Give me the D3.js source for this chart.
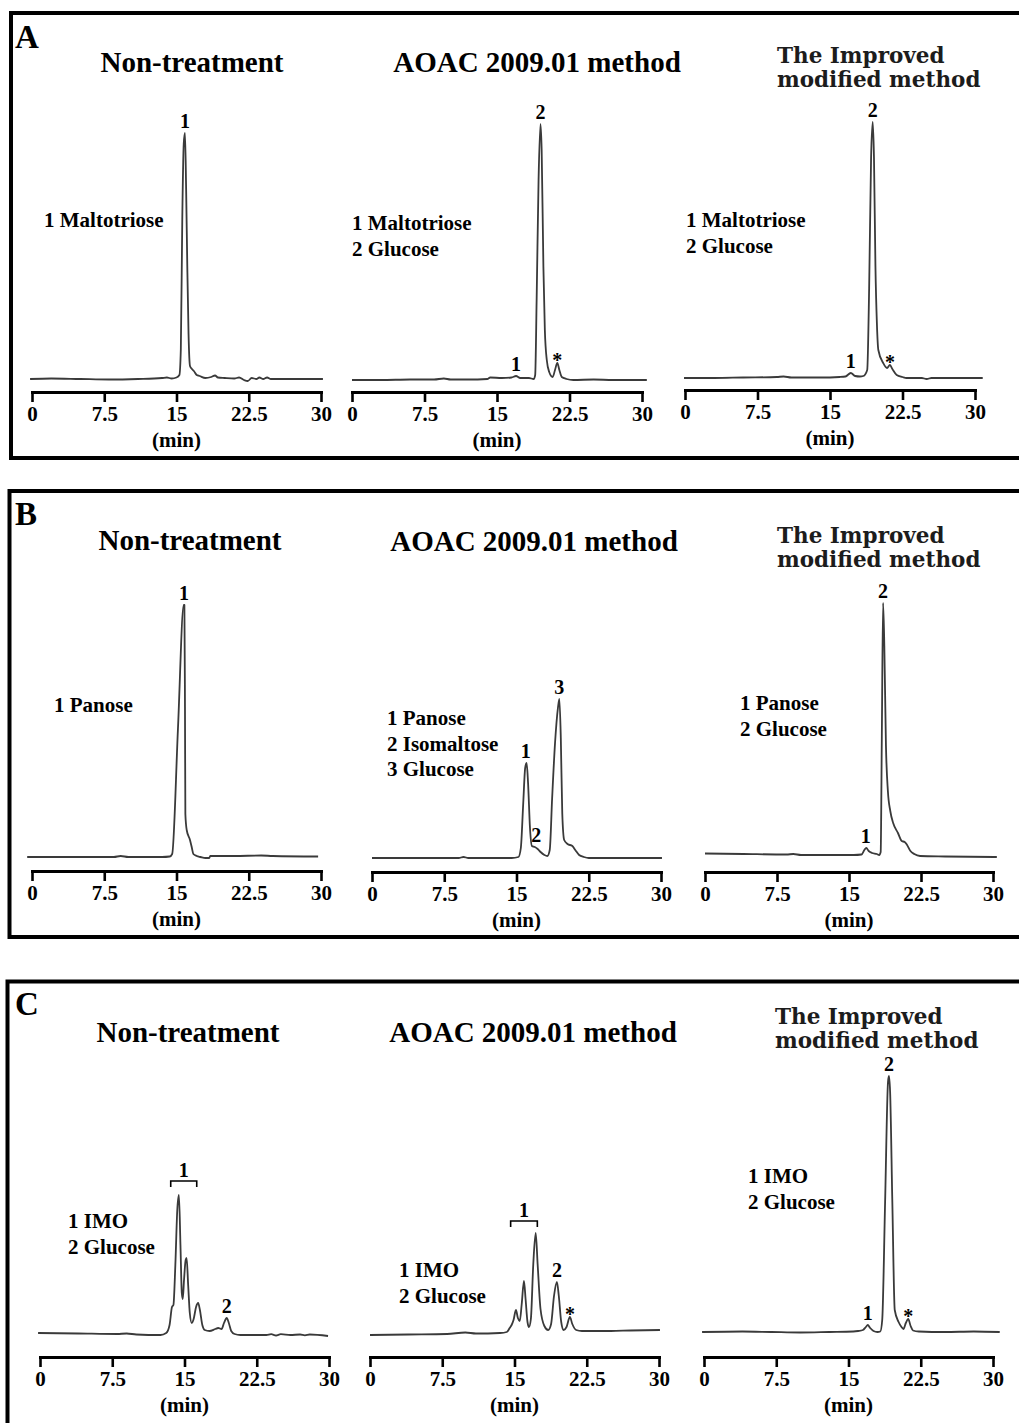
<!DOCTYPE html>
<html>
<head>
<meta charset="utf-8">
<script src="https://cdn.jsdelivr.net/npm/d3@7"></script>
<style>
  body { margin: 0; background: #fff; }
  svg { display: block; }
  .serif { font-family: "Liberation Serif", "Times New Roman", serif; font-weight: bold; }
</style>
</head>
<body>
<div id="chart"></div>
<script>
// page size
const width = 1019;
const height = 1423;

// x axis ticks (min)
const tickValues = [0, 7.5, 15, 22.5, 30];
const tickLabels = ["0", "7.5", "15", "22.5", "30"];
const panelLetters = ["A", "B", "C"];
const columnTitles = ["Non-treatment", "AOAC 2009.01 method", "The Improved\nmodified method"];

// chromatogram traces: [retention time (min), detector signal]
const a1Trace = [[-0.2,0],[2,0.5],[5,0],[8,-0.5],[11,0],[13.5,1],[14,1.5],[14.5,0.5],[15,1.5],[15.3,4],[15.45,30],
  [15.6,160],[15.75,235],[15.88,246],[16,190],[16.12,113],[16.25,45],[16.4,13],[16.6,10],[16.8,8],[17.1,4],[17.4,3],
  [18,1],[18.6,2],[19,3.5],[19.3,1.5],[20,1],[21,0.5],[21.5,1.5],[22,-1],[22.4,-2],[22.8,1],[23.3,0],[23.6,1.5],
  [24,0],[24.4,1.5],[24.8,0],[27,0],[30.2,0]];
const a2Trace = [[0,0],[3,0],[6,0.5],[8.5,0.5],[9.5,1.5],[10.2,0.5],[12,0.5],[14,1],[14.3,2.5],[15.5,2],[16.5,2.5],
  [16.97,4],[17.4,2],[18.3,2],[18.8,1],[18.95,5],[19.1,80],[19.3,200],[19.5,256],[19.62,230],[19.8,113],[19.95,50],
  [20.15,20],[20.4,8],[20.76,3],[21,10],[21.24,17],[21.45,10],[21.7,3],[22.2,1],[22.9,0],[25,0.5],[27,0],[30.5,0]];
const a3Trace = [[-0.1,0],[3,0],[6,0.5],[9.5,1],[10.2,1.5],[11,0.5],[14,0.5],[16,1],[16.6,1.5],[17.15,5],[17.6,2],
  [18.1,1.5],[18.45,2],[18.85,8],[19.05,90],[19.25,220],[19.42,256],[19.55,220],[19.7,112],[19.85,55],[20,28],
  [20.5,15],[20.9,10],[21.2,13],[21.45,9],[21.9,3],[22.5,1],[22.9,0],[24.5,0],[25,-1],[25.5,0],[30.8,0]];
const b1Trace = [[-0.5,0],[4,0],[8.5,0],[9.2,1],[10,0],[13.5,0],[14.3,0.5],[14.55,3],[15.15,128],[15.75,252],
  [15.82,252],[15.88,150],[15.92,43],[16.06,27],[16.4,17],[16.6,9],[16.75,3],[17.1,1],[17.5,0],[18,-1],[18.4,-1],
  [18.5,1],[21,1],[23.8,1.5],[25,1],[29.7,0.5]];
const b2Trace = [[0,0],[5,0],[9,0],[9.5,1],[10,0],[14.5,0],[15.2,1],[15.45,10],[15.7,55],[15.9,90],[16.05,95],
  [16.2,75],[16.4,30],[16.6,12],[16.9,11],[17.2,9],[17.5,6],[17.9,3],[18.2,2],[18.45,8],[18.7,60],[19,115],
  [19.3,150],[19.45,159],[19.6,120],[19.75,45],[19.95,18],[20.3,14],[20.8,12],[21.1,8],[21.5,3],[22,1],[22.5,0],[30.1,0]];
const b3Trace = [[0,2.5],[4,2],[8.5,1.5],[9.2,2],[10,1],[14,1],[15.5,1],[16.3,1.5],[16.6,6],[16.8,8],[17.05,5],
  [17.4,3],[17.9,2],[18.15,1],[18.3,4],[18.42,120],[18.55,253],[18.68,210],[18.85,110],[19.05,65],[19.3,45],
  [19.6,33],[20.1,23],[20.5,15],[20.8,14],[21.05,11],[21.4,5],[21.8,2],[22.4,0],[25,-0.5],[30.4,-1]];
const c1Trace = [[-0.2,2],[4,1.5],[8,1],[9,1.5],[10,0.5],[12.5,0],[13.1,2],[13.45,10],[13.7,28],[13.85,30],
  [14.05,70],[14.25,125],[14.42,140],[14.58,90],[14.72,42],[14.82,36],[14.95,55],[15.12,75],[15.22,77],[15.38,50],
  [15.55,22],[15.75,12],[15.95,16],[16.2,28],[16.42,32],[16.6,25],[16.85,10],[17.1,5],[17.6,4],[18.2,6],[18.5,7],
  [18.85,6],[19.1,12],[19.38,17],[19.6,12],[19.85,4],[20.2,1],[20.8,0],[23.5,0],[24,0.8],[24.5,-0.5],[25,0.8],
  [26,0],[27,0.5],[27.5,-0.3],[28,0.5],[29.9,-1]];
const c2Trace = [[0,-1],[4,-0.5],[8,0],[9.9,1.5],[11,0.5],[13.5,1],[14.2,2],[14.5,6],[14.7,9],[14.9,14],[15.15,24],
  [15.35,16],[15.55,13],[15.75,30],[15.98,53],[16.15,35],[16.35,12],[16.5,7],[16.7,15],[16.95,70],[17.2,101],
  [17.4,70],[17.7,25],[18.1,8],[18.5,4],[18.8,10],[19.1,38],[19.4,52],[19.6,38],[19.85,12],[20.1,4],[20.4,7],
  [20.75,17],[21,10],[21.4,4],[22,3],[25,3],[27,3.5],[30.1,4]];
const c3Trace = [[-0.2,0],[4,0.5],[7,0],[10,-0.5],[13,0],[15.5,0.5],[16,1],[16.5,2],[16.8,5],[17,7],[17.25,4],
  [17.6,1],[18,0],[18.3,0.5],[18.5,12],[18.8,130],[19.1,250],[19.2,256],[19.32,240],[19.55,130],[19.8,22],[20.2,10],
  [20.5,5],[20.7,3],[20.95,9],[21.2,13],[21.45,6],[21.7,1.5],[22.3,0.5],[25,0],[28,0.5],[30.7,0]];

// peak labels: text, retention time, peak height
const a1Peaks = [{text:"1", t:15.88, h:246}];
const a2Peaks = [{text:"2", t:19.5, h:256}, {text:"1", t:16.97, h:4}, {text:"*", t:21.24, h:17}];
const a3Peaks = [{text:"2", t:19.42, h:256}, {text:"1", t:17.15, h:5}, {text:"*", t:21.2, h:13}];
const b1Peaks = [{text:"1", t:15.78, h:252}];
const b2Peaks = [{text:"3", t:19.45, h:159}, {text:"1", t:15.95, h:95}, {text:"2", t:17.05, h:11}];
const b3Peaks = [{text:"2", t:18.55, h:253}, {text:"1", t:16.75, h:8}];
const c1Peaks = [{text:"2", t:19.38, h:17}];
const c2Peaks = [{text:"2", t:19.4, h:52}, {text:"*", t:20.75, h:17}];
const c3Peaks = [{text:"2", t:19.2, h:256}, {text:"1", t:17.0, h:7}, {text:"*", t:21.2, h:13}];

// grouped peaks (bracket): label, start, end, height
const c1Bracket = [{text:"1", from:13.57, to:16.27, h:154}];
const c2Bracket = [{text:"1", from:14.6, to:17.37, h:113}];

// peak identification legends
const a1Legend = ["1 Maltotriose"];
const a2Legend = ["1 Maltotriose", "2 Glucose"];
const a3Legend = ["1 Maltotriose", "2 Glucose"];
const b1Legend = ["1 Panose"];
const b2Legend = ["1 Panose", "2 Isomaltose", "3 Glucose"];
const b3Legend = ["1 Panose", "2 Glucose"];
const c1Legend = ["1 IMO", "2 Glucose"];
const c2Legend = ["1 IMO", "2 Glucose"];
const c3Legend = ["1 IMO", "2 Glucose"];

// layout of the nine chromatograms
const subplots = [
  {col:0, x0:32,  x1:321, axisY:392,  baseY:379,  trace:a1Trace, peaks:a1Peaks, legend:a1Legend, lx:44,  ly:227,  tx:192, ty:72},
  {col:1, x0:352, x1:642, axisY:392,  baseY:380,  trace:a2Trace, peaks:a2Peaks, legend:a2Legend, lx:352, ly:230,  tx:537, ty:72},
  {col:2, x0:685, x1:975, axisY:390,  baseY:378,  trace:a3Trace, peaks:a3Peaks, legend:a3Legend, lx:686, ly:227,  tx:777, ty:63},
  {col:0, x0:32,  x1:321, axisY:871,  baseY:857,  trace:b1Trace, peaks:b1Peaks, legend:b1Legend, lx:54,  ly:712,  tx:190, ty:550},
  {col:1, x0:372, x1:661, axisY:872,  baseY:858,  trace:b2Trace, peaks:b2Peaks, legend:b2Legend, lx:387, ly:725,  tx:534, ty:551},
  {col:2, x0:705, x1:993, axisY:872,  baseY:856,  trace:b3Trace, peaks:b3Peaks, legend:b3Legend, lx:740, ly:710,  tx:777, ty:543},
  {col:0, x0:40,  x1:329, axisY:1357, baseY:1335, trace:c1Trace, peaks:c1Peaks, legend:c1Legend, lx:68,  ly:1228, tx:188, ty:1042, bracket:c1Bracket},
  {col:1, x0:370, x1:659, axisY:1357, baseY:1334, trace:c2Trace, peaks:c2Peaks, legend:c2Legend, lx:399, ly:1277, tx:533, ty:1042, bracket:c2Bracket},
  {col:2, x0:704, x1:993, axisY:1357, baseY:1332, trace:c3Trace, peaks:c3Peaks, legend:c3Legend, lx:748, ly:1183, tx:775, ty:1024}
];

// panel frames (extend past the right edge like the original)
const frames = [
  {x:11,  y:13,    h:445, lx:15, ly:48},
  {x:9.5, y:491,   h:446, lx:15, ly:525},
  {x:7.5, y:981.5, h:500, lx:15, ly:1015}
];

const svg = d3.select("#chart")
  .append("svg")
  .attr("width", width)
  .attr("height", height)
  .attr("viewBox", [0, 0, width, height]);

svg.append("rect").attr("width", width).attr("height", height).attr("fill", "#fff");

frames.forEach((f, i) => {
  svg.append("rect")
    .attr("x", f.x).attr("y", f.y)
    .attr("width", width + 20).attr("height", f.h)
    .attr("fill", "none").attr("stroke", "#000").attr("stroke-width", 4);
  svg.append("text")
    .attr("class", "serif")
    .attr("x", f.lx).attr("y", f.ly)
    .attr("font-size", 33)
    .text(panelLetters[i]);
});

subplots.forEach(p => {
  const g = svg.append("g");

  const x = d3.scaleLinear().domain([0, 30]).range([p.x0, p.x1]);
  const y = d3.scaleLinear().domain([0, 260]).range([p.baseY, p.baseY - 260]);

  // title
  if (p.col < 2) {
    g.append("text")
      .attr("class", "serif")
      .attr("x", p.tx).attr("y", p.ty)
      .attr("text-anchor", "middle")
      .attr("font-size", 29)
      .text(columnTitles[p.col]);
  } else {
    const t = g.append("text")
      .attr("x", p.tx).attr("y", p.ty)
      .attr("font-family", "'DejaVu Serif', serif")
      .attr("font-weight", "bold")
      .attr("font-size", 21.5)
      .attr("fill", "#1c1c1c");
    columnTitles[2].split("\n").forEach((line, i) => {
      t.append("tspan").attr("x", p.tx).attr("dy", i === 0 ? 0 : 24).text(line);
    });
  }

  // x axis
  const axis = g.append("g")
    .attr("transform", `translate(0,${p.axisY})`)
    .call(d3.axisBottom(x)
      .tickValues(tickValues)
      .tickFormat((d, i) => tickLabels[i])
      .tickSize(10)
      .tickSizeOuter(0)
      .tickPadding(4));
  axis.select(".domain").attr("stroke", "#000").attr("stroke-width", 3).attr("stroke-linecap", "square");
  axis.selectAll(".tick line").attr("stroke", "#000").attr("stroke-width", 2.6);
  axis.selectAll(".tick text")
    .attr("class", "serif")
    .attr("font-size", 21)
    .attr("fill", "#000");

  g.append("text")
    .attr("class", "serif")
    .attr("x", (p.x0 + p.x1) / 2)
    .attr("y", p.axisY + 55)
    .attr("text-anchor", "middle")
    .attr("font-size", 21)
    .text("(min)");

  // trace
  const line = d3.line()
    .x(d => x(d[0]))
    .y(d => y(d[1]))
    .curve(d3.curveMonotoneX);

  g.append("path")
    .datum(p.trace)
    .attr("d", line)
    .attr("fill", "none")
    .attr("stroke", "#3a3a3a")
    .attr("stroke-width", 1.8)
    .attr("stroke-linejoin", "round");

  // peak labels
  g.selectAll(".peak")
    .data(p.peaks)
    .enter()
    .append("text")
      .attr("class", "serif")
      .attr("x", d => x(d.t))
      .attr("y", d => y(d.h) - (d.text === "*" ? -4 : 5))
      .attr("text-anchor", "middle")
      .attr("font-size", 20)
      .text(d => d.text);

  // bracket for grouped IMO peaks
  if (p.bracket) {
    p.bracket.forEach(b => {
      const by = y(b.h);
      g.append("path")
        .attr("d", `M${x(b.from)},${by + 6}V${by}H${x(b.to)}V${by + 6}`)
        .attr("fill", "none").attr("stroke", "#000").attr("stroke-width", 1.6);
      g.append("text")
        .attr("class", "serif")
        .attr("x", (x(b.from) + x(b.to)) / 2)
        .attr("y", by - 4)
        .attr("text-anchor", "middle")
        .attr("font-size", 20)
        .text(b.text);
    });
  }

  // legend
  g.selectAll(".legend")
    .data(p.legend)
    .enter()
    .append("text")
      .attr("class", "serif")
      .attr("x", p.lx)
      .attr("y", (d, i) => p.ly + i * 25.5)
      .attr("font-size", 21)
      .text(d => d);
});
</script>
</body>
</html>
